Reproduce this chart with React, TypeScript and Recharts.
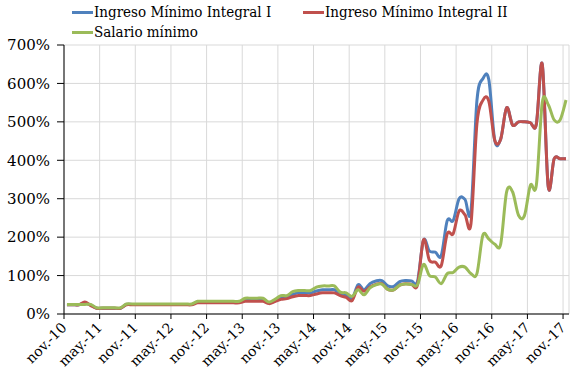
import React from 'react';
import { LineChart, Line, XAxis, YAxis, CartesianGrid, Legend } from 'recharts';

// Monthly values (% ), Nov-2010 .. Nov-2017
const ingresoMinimoI = [
  24, 24, 24, 28, 23,
  15, 15, 15, 15, 15,
  25, 25, 25, 25, 25, 25, 25, 25, 25, 25, 25, 25,
  31, 31, 31, 31, 31, 31, 31, 31,
  37, 37, 37, 37,
  29, 35,
  43, 44,
  51, 55, 55, 55,
  60, 63, 63, 63,
  53, 50, 40,
  76, 63, 79, 86, 87,
  73, 72,
  84, 87, 86, 85,
  192, 164, 161, 152,
  243, 243, 300, 298, 268, 555,
  612, 610, 452, 455,
  537, 492, 500, 500, 498, 494,
  650, 332, 404, 404, 404,
];

const ingresoMinimoII = [
  24, 24, 24, 31, 22,
  15, 15, 15, 15, 15,
  24, 24, 24, 24, 24, 24, 24, 24, 24, 24, 24, 24,
  29, 29, 29, 29, 29, 29, 29, 29,
  33, 33, 33, 33,
  27, 32,
  38, 40,
  45, 48, 48, 48,
  52, 55, 55, 55,
  48, 43, 35,
  70, 59, 70, 77, 79,
  64, 63,
  75, 79, 77, 76,
  193, 140, 135, 126,
  209, 209, 268, 258, 235, 495,
  556, 554, 452, 455,
  537, 492, 500, 500, 498, 494,
  650, 332, 404, 404, 404,
];

const salarioMinimo = [
  25, 25, 25, 25, 25,
  16, 16, 16, 16, 16,
  26, 26, 26, 26, 26, 26, 26, 26, 26, 26, 26, 26,
  33, 33, 33, 33, 33, 33, 33, 33,
  41, 41, 41, 41,
  31, 38,
  48, 48,
  58, 61, 61, 61,
  70, 73, 73, 73,
  57, 55, 46,
  63, 50, 68, 76, 78,
  64, 63,
  75, 78, 77, 76,
  129, 100, 96, 79,
  105, 108, 122, 122, 105, 105,
  205, 195, 182, 182,
  318, 318, 257, 256, 335, 335,
  550, 545, 505, 505, 557,
];

const xTickLabels = [
  'nov.-10', 'may.-11', 'nov.-11', 'may.-12', 'nov.-12', 'may.-13', 'nov.-13',
  'may.-14', 'nov.-14', 'may.-15', 'nov.-15', 'may.-16', 'nov.-16', 'may.-17', 'nov.-17',
];
const xTicks = xTickLabels.map((_, i) => i * 6);
const yTicks = [0, 100, 200, 300, 400, 500, 600, 700];

const seriesNames = ['Ingreso Mínimo Integral I', 'Ingreso Mínimo Integral II', 'Salario mínimo'];
const seriesColors = ['#4F81BD', '#C0504D', '#9BBB59'];

const data = ingresoMinimoI.map((v, i) => ({
  x: i + 0.5,
  a: v,
  b: ingresoMinimoII[i],
  c: salarioMinimo[i],
}));

const FONT = "'DejaVu Serif', serif";

// Excel-like smoothed line (Catmull-Rom style bezier)
function excelCurve(context: any) {
  let pts: number[][] = [];
  return {
    areaStart() {},
    areaEnd() {},
    lineStart() {
      pts = [];
    },
    point(x: number, y: number) {
      pts.push([+x, +y]);
    },
    lineEnd() {
      if (!pts.length) return;
      context.moveTo(pts[0][0], pts[0][1]);
      for (let i = 0; i < pts.length - 1; i++) {
        const p0 = pts[i - 1] || pts[i];
        const p1 = pts[i];
        const p2 = pts[i + 1];
        const p3 = pts[i + 2] || p2;
        context.bezierCurveTo(
          p1[0] + (p2[0] - p0[0]) / 6,
          p1[1] + (p2[1] - p0[1]) / 6,
          p2[0] - (p3[0] - p1[0]) / 6,
          p2[1] - (p3[1] - p1[1]) / 6,
          p2[0],
          p2[1]
        );
      }
    },
  };
}

const legendPos = [
  { left: 72, top: 2 },
  { left: 303, top: 2 },
  { left: 72, top: 22 },
];

const renderLegend = () => (
  <div style={{ position: 'relative', width: 585, height: 45 }}>
    {seriesNames.map((name, i) => (
      <div
        key={name}
        style={{
          position: 'absolute',
          left: legendPos[i].left,
          top: legendPos[i].top,
          height: 20,
          display: 'flex',
          alignItems: 'center',
          whiteSpace: 'nowrap',
          fontFamily: "'DejaVu Serif Condensed', 'DejaVu Serif', serif",
          fontStretch: 'condensed',
          fontSize: 15,
          lineHeight: '20px',
          color: '#000',
        }}
      >
        <span style={{ display: 'inline-block', width: 21, height: 3, background: seriesColors[i], marginRight: 1 }} />
        <span>{name}</span>
      </div>
    ))}
  </div>
);

const XTick = (props: any) => {
  const { x, y, payload } = props;
  const idx = xTicks.indexOf(payload.value);
  return (
    <g transform={`translate(${x},${y + 4})`}>
      <text transform="rotate(-45)" textAnchor="end" dy="0.35em" x={0} y={0} fontFamily={FONT} fontSize={14} fill="#000">
        {xTickLabels[idx]}
      </text>
    </g>
  );
};

export default function App() {
  return (
    <div style={{ position: 'absolute', left: 0, top: 0, width: 585, height: 382, background: '#fff' }}>
      <LineChart width={585} height={382} data={data} margin={{ top: 45, right: 16, bottom: 0, left: 0 }}>
        <CartesianGrid stroke="#D9D9D9" strokeWidth={1} />
        <XAxis
          type="number"
          dataKey="x"
          domain={[0, 85]}
          ticks={xTicks}
          interval={0}
          height={68}
          tickSize={5}
          tickMargin={2}
          axisLine={{ stroke: '#000' }}
          tickLine={{ stroke: '#000' }}
          tick={<XTick />}
          allowDataOverflow
        />
        <YAxis
          type="number"
          domain={[0, 700]}
          ticks={yTicks}
          interval={0}
          width={64}
          tickSize={7}
          tickMargin={7}
          axisLine={{ stroke: '#000' }}
          tickLine={{ stroke: '#000' }}
          tickFormatter={(v: number) => `${v}%`}
          tick={{ fontFamily: FONT, fontSize: 15, fill: '#000' }}
        />
        <Legend layout="horizontal" verticalAlign="middle" align="center" wrapperStyle={{ top: 0, left: 0, width: 585, height: 45 }} content={renderLegend} />
        <Line dataKey="a" name={seriesNames[0]} stroke={seriesColors[0]} strokeWidth={3} dot={false} type={excelCurve as any} isAnimationActive={false} />
        <Line dataKey="b" name={seriesNames[1]} stroke={seriesColors[1]} strokeWidth={3} dot={false} type={excelCurve as any} isAnimationActive={false} />
        <Line dataKey="c" name={seriesNames[2]} stroke={seriesColors[2]} strokeWidth={3} dot={false} type={excelCurve as any} isAnimationActive={false} />
      </LineChart>
    </div>
  );
}
